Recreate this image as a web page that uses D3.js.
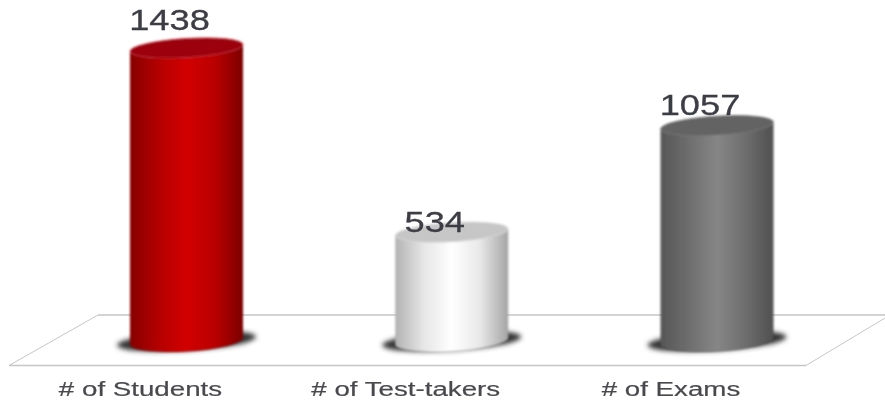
<!DOCTYPE html>
<html>
<head>
<meta charset="utf-8">
<script src="https://cdn.jsdelivr.net/npm/d3@7"></script>
<style>
    html, body { margin: 0; padding: 0; background: #fff; }
    text { font-family: "Liberation Sans", Arial, sans-serif; }
</style>
</head>
<body>
<svg id="chart" width="885" height="402"></svg>
<script>
// data
const categories = ['# of Students', '# of Test-takers', '# of Exams'];
const values = [1438, 534, 1057];
const bodyStops = [
    ['#860000', '#b40000', '#d20006', '#ba0000', '#7c0000'],
    ['#b2b2b2', '#e6e6e6', '#ffffff', '#e8e8e8', '#a4a4a4'],
    ['#565656', '#6e6e6e', '#868686', '#6e6e6e', '#505050']
];
const topColors = ['#9c0208', '#c6c6c6', '#646464'];
const rimColors = ['#b8303a', '#d6d6d6', '#6e6e6e'];

const svg = d3.select('#chart');
const defs = svg.append('defs');

const x = d3.scalePoint().domain(categories).range([186.5, 717]);
const y = d3.scaleLinear().domain([0, 1438]).range([341, 48]);
// the value labels drift down the bar a bit, so they get their own scale
const labelY = d3.scaleLinear().domain([0, 1438]).range([352, 30]);

const rx = 56.5, ry = 9.5, tilt = -3.5;
const dy = rx * Math.sin(tilt * Math.PI / 180);

defs.append('filter').attr('id', 'shadowBlur')
    .attr('x', '-30%').attr('y', '-80%').attr('width', '160%').attr('height', '260%')
    .append('feGaussianBlur').attr('stdDeviation', 2.5);
defs.append('filter').attr('id', 'soft')
    .append('feGaussianBlur').attr('stdDeviation', 0.8);
defs.append('filter').attr('id', 'softText')
    .attr('x', '-5%').attr('y', '-10%').attr('width', '110%').attr('height', '120%')
    .append('feGaussianBlur').attr('stdDeviation', 0.4);

bodyStops.forEach((stops, i) => {
    const grad = defs.append('linearGradient').attr('id', 'body' + i);
    stops.forEach((c, j) => {
        grad.append('stop').attr('offset', j / (stops.length - 1)).attr('stop-color', c);
    });
});

// floor
const floor = svg.append('g').attr('fill', 'none').attr('stroke', '#c6c6c6');
floor.append('path').attr('stroke-width', 1.5).attr('d', 'M98,315H885');
floor.append('path').attr('stroke-width', 1.5).attr('d', 'M9,365.500H806');
floor.append('path').attr('stroke-width', 1).attr('d', 'M9,365.500L98,315M806,365.500L885,318');

const bars = svg.selectAll('g.bar')
    .data(categories.map((c, i) => ({ c, v: values[i], i })))
    .enter().append('g').attr('class', 'bar');

// shadow on the floor
bars.append('ellipse')
    .attr('cx', d => x(d.c))
    .attr('cy', y(0))
    .attr('rx', rx + 13)
    .attr('ry', 9.5)
    .attr('fill', '#333333')
    .attr('filter', 'url(#shadowBlur)')
    .attr('transform', d => `rotate(${tilt} ${x(d.c)} ${y(0)})`);

const soft = bars.append('g').attr('filter', 'url(#soft)');

// cylinder body
soft.append('path')
    .attr('fill', d => `url(#body${d.i})`)
    .attr('d', d => {
        const l = x(d.c) - rx, r = x(d.c) + rx;
        return `M${l},${y(d.v) - dy}` +
            `L${l},${y(0) - dy}` +
            `A${rx},${ry + 1} ${tilt} 0 0 ${r},${y(0) + dy}` +
            `L${r},${y(d.v) + dy}` +
            `A${rx},${ry} ${tilt} 0 1 ${l},${y(d.v) - dy}Z`;
    });

// cylinder top
soft.append('ellipse')
    .attr('cx', d => x(d.c))
    .attr('cy', d => y(d.v))
    .attr('rx', rx)
    .attr('ry', ry)
    .attr('fill', d => topColors[d.i])
    .attr('stroke', d => rimColors[d.i])
    .attr('stroke-width', 0.8)
    .attr('transform', d => `rotate(${tilt} ${x(d.c)} ${y(d.v)})`);

// value labels
bars.append('text')
    .attr('transform', d => `translate(${x(d.c) - 17},${labelY(d.v)}) scale(1.25,1)`)
    .attr('text-anchor', 'middle')
    .attr('font-size', 29)
    .attr('fill', '#3c3c44')
    .attr('stroke', '#3c3c44')
    .attr('stroke-width', 0.3)
    .attr('filter', 'url(#softText)')
    .text(d => d.v);

// category labels
bars.append('text')
    .attr('transform', d => `translate(${x(d.c) - 46},396) scale(1.32,1)`)
    .attr('text-anchor', 'middle')
    .attr('font-size', 21)
    .attr('fill', '#4a4a4e')
    .attr('stroke', '#4a4a4e')
    .attr('stroke-width', 0.2)
    .attr('filter', 'url(#softText)')
    .text(d => d.c);
</script>
</body>
</html>
